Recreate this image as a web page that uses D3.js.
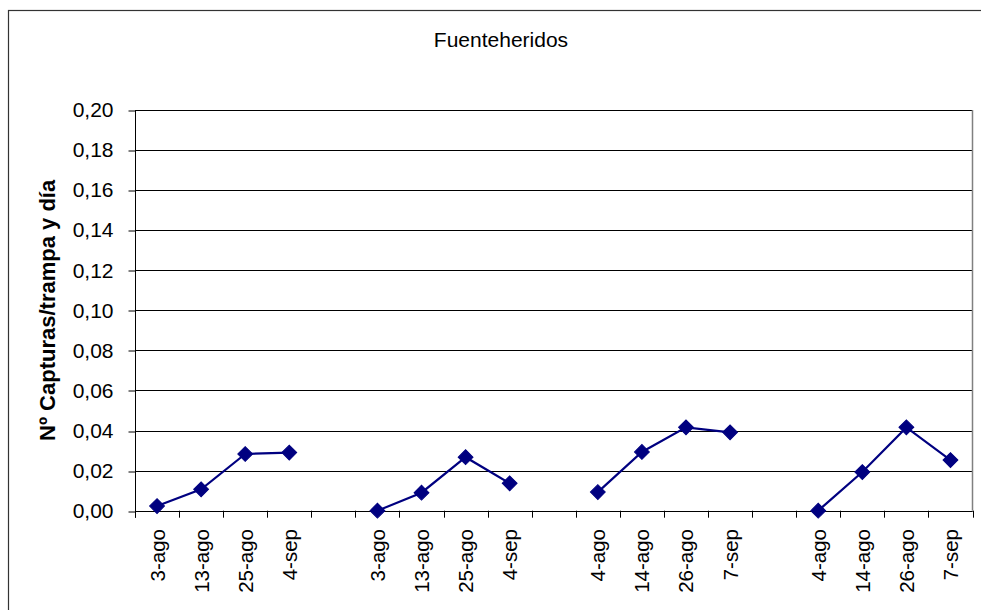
<!DOCTYPE html>
<html>
<head>
<meta charset="utf-8">
<script src="https://cdn.jsdelivr.net/npm/d3@7"></script>
<style>
  html, body { margin: 0; padding: 0; background: #fff; }
  svg { display: block; font-family: "Liberation Sans", Arial, sans-serif; }
</style>
</head>
<body>
<svg id="chart" width="981" height="610"></svg>
<script>
const chartTitle = "Fuenteheridos";
const yAxisTitle = "Nº Capturas/trampa y día";
const categories = ["3-ago", "13-ago", "25-ago", "4-sep", "",
                    "3-ago", "13-ago", "25-ago", "4-sep", "",
                    "4-ago", "14-ago", "26-ago", "7-sep", "",
                    "4-ago", "14-ago", "26-ago", "7-sep"];
const values = [0.0023, 0.0107, 0.0283, 0.0290, null,
                0.0000, 0.0090, 0.0267, 0.0137, null,
                0.0093, 0.0293, 0.0416, 0.0391, null,
                0.0000, 0.0193, 0.0416, 0.0253];
const yTicks = [0, 0.02, 0.04, 0.06, 0.08, 0.10, 0.12, 0.14, 0.16, 0.18, 0.20];

(function () {
const svg = d3.select("#chart");
const pL = 135, pR = 972.5, pT = 110, pB = 510.7;

// outer chart border (cut at right/bottom)
svg.append("rect").attr("x", 8.5).attr("y", 10.5).attr("width", 1000).attr("height", 700)
  .attr("fill", "none").attr("stroke", "#333").attr("stroke-width", 1.2);

const idx = categories.map((c, i) => i);
const x = d3.scaleBand().domain(idx).range([pL, pR]).padding(0);
const y = d3.scaleLinear().domain([0, 0.2]).range([pB, pT]);

// gridlines
svg.append("g").selectAll("line").data(yTicks).join("line")
  .attr("x1", pL).attr("x2", pR)
  .attr("y1", d => Math.round(y(d)) + 0.5).attr("y2", d => Math.round(y(d)) + 0.5)
  .attr("stroke", "#000").attr("stroke-width", 1);

// right plot border
svg.append("line").attr("x1", pR).attr("x2", pR).attr("y1", pT).attr("y2", pB)
  .attr("stroke", "#808080").attr("stroke-width", 1.5);

// y axis
const fmt = d3.format(".2f");
const yAxis = d3.axisLeft(y).tickValues(yTicks).tickSize(7).tickPadding(15)
  .tickFormat(d => fmt(d).replace(".", ","));
const yg = svg.append("g").attr("transform", `translate(${pL + 0.5},0)`).call(yAxis);
yg.select(".domain").attr("stroke", "#000").attr("d", `M0,${pT}V${pB + 7}`);
yg.selectAll(".tick line").attr("stroke", "#000")
  .attr("transform", d => `translate(0,${Math.round(y(d)) + 0.5 - y(d)})`);
yg.selectAll(".tick text").attr("font-size", 21).attr("fill", "#000")
  .attr("font-family", "Liberation Sans, Arial, sans-serif");

// x axis ticks at band boundaries
const bounds = idx.map(i => x(i)).concat([x(idx[idx.length - 1]) + x.bandwidth()]);
svg.append("line").attr("x1", pL).attr("x2", pR)
  .attr("y1", Math.round(pB) + 0.5).attr("y2", Math.round(pB) + 0.5)
  .attr("stroke", "#000");
svg.append("g").selectAll("line").data(bounds).join("line")
  .attr("x1", d => Math.round(d) + 0.5).attr("x2", d => Math.round(d) + 0.5)
  .attr("y1", pB).attr("y2", pB + 7)
  .attr("stroke", "#000");

// x labels
svg.append("g").selectAll("text").data(idx).join("text")
  .attr("transform", i => `translate(${x(i) + x.bandwidth() / 2 + 7.5},529) rotate(-90)`)
  .attr("text-anchor", "end")
  .attr("font-size", 20.5).attr("fill", "#000")
  .text(i => categories[i]);

// line
const line = d3.line()
  .defined(i => values[i] != null)
  .x(i => x(i) + x.bandwidth() / 2)
  .y(i => y(values[i]));
svg.append("path").datum(idx).attr("d", line)
  .attr("fill", "none").attr("stroke", "#000080").attr("stroke-width", 2.2);

// markers
const diamond = d3.symbol().type(d3.symbolSquare).size(110);
svg.append("g").selectAll("path").data(idx.filter(i => values[i] != null)).join("path")
  .attr("d", diamond)
  .attr("transform", i => `translate(${x(i) + x.bandwidth() / 2},${y(values[i])}) rotate(45)`)
  .attr("fill", "#000080").attr("stroke", "#000080").attr("stroke-width", 1);

// title
svg.append("text").attr("x", 501).attr("y", 47).attr("text-anchor", "middle")
  .attr("font-size", 21).attr("fill", "#000").text(chartTitle);

// y axis title
svg.append("text").attr("transform", `translate(55,${(pT + pB) / 2}) rotate(-90)`)
  .attr("text-anchor", "middle").attr("font-size", 22).attr("font-weight", "bold")
  .attr("fill", "#000").text(yAxisTitle);
})();
</script>
</body>
</html>
